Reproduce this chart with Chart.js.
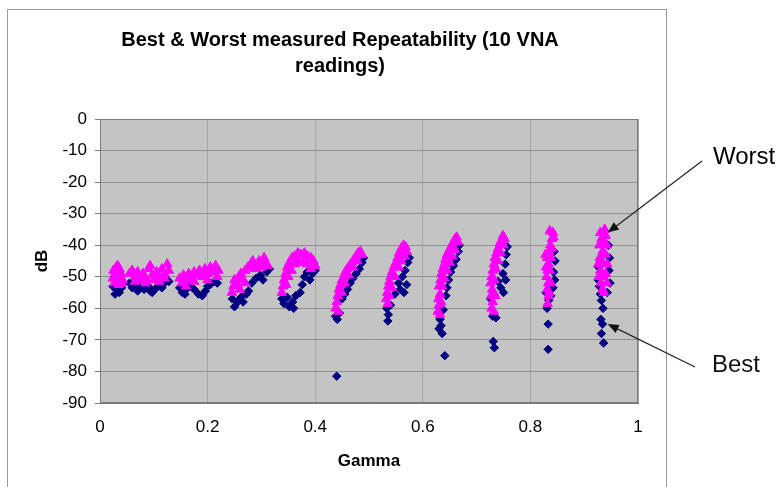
<!DOCTYPE html>
<html>
<head>
<meta charset="utf-8">
<script src="https://cdn.jsdelivr.net/npm/chart.js@4.4.1/dist/chart.umd.min.js"></script>
<style>
  body { margin: 0; background: #fff; }
  canvas { display: block; }
</style>
</head>
<body>
<canvas id="my_Chart" width="780" height="487"></canvas>
<script>
// Texts and ticks
var titleLines = ["Best & Worst measured Repeatability (10 VNA", "readings)"];
var xTitle = "Gamma";
var yTitle = "dB";
var xTicks = [0, 0.2, 0.4, 0.6, 0.8, 1];
var yTicks = [0, -10, -20, -30, -40, -50, -60, -70, -80, -90];

// Worst repeatability (magenta triangles), one line per gamma group
var worstGamma = [
  0.025, 0.030, 0.033, 0.036, 0.028, 0.034, 0.039, 0.024, 0.031, 0.037, 0.042, 0.027, 0.035, 0.040,
  0.055, 0.060, 0.065, 0.070, 0.075, 0.080, 0.085, 0.090, 0.093, 0.097, 0.100, 0.105, 0.110, 0.115, 0.120, 0.125, 0.128, 0.065, 0.085, 0.110, 0.120,
  0.148, 0.152, 0.155, 0.160, 0.165, 0.170, 0.175, 0.180, 0.185, 0.190, 0.195, 0.200, 0.205, 0.210, 0.215, 0.220, 0.218, 0.200, 0.175, 0.160,
  0.245, 0.248, 0.250, 0.255, 0.258, 0.262, 0.265, 0.270, 0.275, 0.280, 0.284, 0.288, 0.292, 0.296, 0.300, 0.305, 0.308, 0.312, 0.260, 0.270,
  0.338, 0.340, 0.342, 0.345, 0.348, 0.352, 0.357, 0.362, 0.368, 0.374, 0.380, 0.386, 0.392, 0.397, 0.400, 0.350, 0.356, 0.362, 0.370, 0.378, 0.385, 0.392, 0.346,
  0.438, 0.440, 0.442, 0.444, 0.447, 0.450, 0.453, 0.456, 0.460, 0.464, 0.468, 0.472, 0.476, 0.480, 0.484, 0.487, 0.455, 0.462, 0.470, 0.478, 0.449, 0.443,
  0.532, 0.534, 0.536, 0.538, 0.540, 0.543, 0.546, 0.550, 0.553, 0.556, 0.560, 0.564, 0.568, 0.570, 0.566, 0.560, 0.555, 0.548, 0.542, 0.538, 0.535,
  0.628, 0.630, 0.629, 0.632, 0.630, 0.633, 0.635, 0.637, 0.640, 0.642, 0.645, 0.648, 0.651, 0.654, 0.657, 0.660, 0.663, 0.665, 0.660, 0.655, 0.650, 0.645, 0.640, 0.636, 0.634, 0.632,
  0.728, 0.730, 0.727, 0.729, 0.726, 0.728, 0.730, 0.732, 0.734, 0.737, 0.740, 0.743, 0.746, 0.749, 0.752, 0.750, 0.745, 0.740, 0.736, 0.733, 0.735, 0.732,
  0.832, 0.834, 0.831, 0.833, 0.830, 0.832, 0.834, 0.831, 0.835, 0.837, 0.840, 0.842, 0.843, 0.840, 0.838, 0.836, 0.838, 0.835, 0.829, 0.828, 0.836,
  0.930, 0.932, 0.928, 0.934, 0.929, 0.935, 0.930, 0.936, 0.931, 0.934, 0.938, 0.940, 0.942, 0.940, 0.943, 0.940, 0.942, 0.926, 0.927, 0.937, 0.936, 0.933
];
var worstDb = [
  -48, -47, -46.5, -47.5, -49, -49.5, -49, -50.5, -51, -50.5, -51, -52, -52.5, -52,
  -49, -48, -50, -48.5, -51, -49, -50.5, -47.5, -46.5, -49.5, -51, -48.5, -50, -47.5, -49, -46, -48, -51.5, -52, -51.5, -50.5,
  -50.5, -52, -49.5, -51, -49, -50.5, -48.5, -49.5, -48, -50, -47.5, -49, -47, -48.5, -46.5, -48, -50, -51, -51.5, -53,
  -55, -53, -51, -52.5, -50, -49, -51, -48, -47, -46, -45, -47.5, -46, -45, -47, -44, -45.5, -46.5, -54, -52,
  -55, -53, -51, -49, -47, -45.5, -44, -43.5, -42.5, -43, -42.5, -43.5, -44, -45, -46.5, -50, -48, -46, -45, -45.5, -46, -47.5, -52.5,
  -60, -58, -56, -54, -52.5, -51, -50, -48.5, -47.5, -46.5, -45.5, -44.5, -43.5, -42.5, -42, -43, -52, -49.5, -47, -45, -55, -61,
  -57, -55, -53, -51.5, -50, -48.5, -47, -45.5, -44, -42.5, -41, -40, -40.5, -42, -43.5, -45, -47, -50, -53.5, -56, -58.5,
  -61, -59, -57, -55.5, -53, -51, -49, -47.5, -46, -44.5, -43, -42, -41, -40, -39, -38, -37.5, -39, -41.5, -43.5, -45.5, -48, -50.5, -53, -58, -62,
  -60, -58, -56, -54, -52, -50, -48, -46, -44, -42.5, -41, -39.5, -38.5, -37, -38, -40, -42.5, -45, -47.5, -51, -56, -61,
  -58.5, -56, -54, -52, -50, -48, -46, -44, -42, -40, -38, -36, -37.5, -41, -44, -48, -52, -55, -47, -43, -35.5,
  -36, -38, -40, -42, -44, -46, -48, -50, -52, -54, -35, -37, -40, -43, -46, -49, -52, -46, -50, -55, -39, -45
];

// Best repeatability (navy diamonds)
var bestGamma = [
  0.024, 0.030, 0.035, 0.040, 0.028, 0.036, 0.041,
  0.055, 0.060, 0.068, 0.075, 0.082, 0.090, 0.097, 0.102, 0.108, 0.115, 0.120, 0.128, 0.070, 0.093,
  0.148, 0.153, 0.160, 0.167, 0.175, 0.183, 0.190, 0.196, 0.200, 0.205, 0.212, 0.218, 0.158,
  0.246, 0.250, 0.256, 0.262, 0.266, 0.272, 0.276, 0.282, 0.290, 0.298, 0.303, 0.310, 0.315,
  0.338, 0.342, 0.348, 0.352, 0.358, 0.364, 0.360, 0.372, 0.376, 0.380, 0.385, 0.390, 0.395, 0.400,
  0.438, 0.441, 0.445, 0.440, 0.450, 0.455, 0.460, 0.465, 0.470, 0.476, 0.482, 0.487, 0.490,
  0.533, 0.536, 0.535, 0.540, 0.548, 0.555, 0.562, 0.567, 0.572, 0.575, 0.565, 0.570, 0.558,
  0.632, 0.634, 0.630, 0.636, 0.641, 0.638, 0.645, 0.648, 0.652, 0.657, 0.662, 0.666, 0.668, 0.643,
  0.726, 0.732, 0.730, 0.736, 0.731, 0.733, 0.745, 0.740, 0.749, 0.753, 0.755, 0.757, 0.754, 0.750,
  0.829, 0.834, 0.831, 0.833, 0.833, 0.844, 0.846, 0.843, 0.845, 0.842, 0.838,
  0.926, 0.928, 0.930, 0.932, 0.935, 0.931, 0.934, 0.932, 0.936, 0.945, 0.947, 0.946, 0.948, 0.943, 0.927
];
var bestDb = [
  -53, -54, -54.5, -53.5, -55.5, -55, -52.5,
  -52, -53.5, -52.5, -53.5, -54, -53, -55, -54, -53, -53.5, -52, -51.5, -54.5, -54.5,
  -53.5, -55, -54, -53, -54, -55.5, -56, -54.5, -53, -52.5, -51.5, -52, -55.5,
  -57, -59.5, -58, -56.5, -58, -55.5, -54.5, -52, -50.5, -49.5, -51, -48.5, -47.5,
  -57, -58.5, -56.5, -59.5, -58, -56, -60, -55, -52.5, -50, -48.5, -51, -49, -48,
  -62.5, -63.5, -61.5, -81.5, -57, -55.5, -54, -52, -50.5, -49, -47.5, -45.5, -44,
  -60, -62, -64, -59, -55.5, -52, -50, -48, -45.5, -44, -55, -52.5, -54,
  -63.5, -65.5, -66.5, -68, -75, -60.5, -53.5, -51, -48.5, -46.5, -44.5, -42, -40, -56,
  -57, -55.5, -62.5, -63, -70.5, -72.5, -53.5, -51.5, -49, -46, -43, -40.5, -51, -55,
  -55, -57.5, -60, -65, -73, -42, -45, -48.5, -51, -53.5, -56,
  -51, -53, -55.5, -57.5, -60, -63.5, -65, -68, -71, -40, -44, -48, -52, -55, -47
];

// Callouts: text and the data point each arrow points at
var noteLabels = ["Worst", "Best"];
var noteGamma = [0.94, 0.94];
var noteDb = [-36, -65];

function toPoints(xs, ys) {
    return xs.map(function (x, i) { return { x: x, y: ys[i] }; });
}

Chart.defaults.font.family = "'Liberation Sans', Arial, sans-serif";
Chart.defaults.color = '#000';

// Outer frame + gray plot area
var plotBackground = {
    id: 'plotBackground',
    beforeDraw: function (chart) {
        var ctx = chart.ctx, a = chart.chartArea;
        ctx.save();
        ctx.strokeStyle = '#9a9a9a';
        ctx.lineWidth = 1;
        ctx.strokeRect(7.5, 9.5, 659, 520);
        ctx.fillStyle = '#c4c4c4';
        ctx.fillRect(a.left, a.top, a.right - a.left, a.bottom - a.top);
        ctx.restore();
    },
    beforeDatasetsDraw: function (chart) {
        var ctx = chart.ctx, a = chart.chartArea;
        ctx.save();
        ctx.strokeStyle = '#7a7a7a';
        ctx.lineWidth = 1;
        ctx.strokeRect(a.left + 0.5, a.top + 0.5, a.right - a.left - 1, a.bottom - a.top - 1);
        ctx.restore();
    }
};

// "Worst" / "Best" callouts with arrows
var callouts = {
    id: 'callouts',
    afterDraw: function (chart) {
        var ctx = chart.ctx;
        var xs = chart.scales.x, ys = chart.scales.y;
        var textPos = [[713, 157], [712, 365]];
        var lineStart = [[702, 161], [695, 367]];
        ctx.save();
        ctx.font = "24px 'Liberation Sans', Arial, sans-serif";
        ctx.fillStyle = '#000';
        ctx.textBaseline = 'middle';
        ctx.textAlign = 'left';
        for (var i = 0; i < noteLabels.length; i++) {
            ctx.fillText(noteLabels[i], textPos[i][0], textPos[i][1]);
            var tx = xs.getPixelForValue(noteGamma[i]) + 2;
            var ty = ys.getPixelForValue(noteDb[i]);
            var sx = lineStart[i][0], sy = lineStart[i][1];
            var ang = Math.atan2(ty - sy, tx - sx);
            ctx.strokeStyle = '#222';
            ctx.lineWidth = 1.2;
            ctx.beginPath();
            ctx.moveTo(sx, sy);
            ctx.lineTo(tx - 8 * Math.cos(ang), ty - 8 * Math.sin(ang));
            ctx.stroke();
            ctx.beginPath();
            ctx.moveTo(tx, ty);
            ctx.lineTo(tx - 11 * Math.cos(ang) + 4.5 * Math.sin(ang), ty - 11 * Math.sin(ang) - 4.5 * Math.cos(ang));
            ctx.lineTo(tx - 11 * Math.cos(ang) - 4.5 * Math.sin(ang), ty - 11 * Math.sin(ang) + 4.5 * Math.cos(ang));
            ctx.closePath();
            ctx.fillStyle = '#111';
            ctx.fill();
        }
        ctx.restore();
    }
};

var ctx = document.getElementById('my_Chart').getContext('2d');
var myChart = new Chart(ctx, {
    type: 'scatter',
    data: {
        datasets: [{
            label: 'Worst',
            data: toPoints(worstGamma, worstDb),
            pointStyle: 'triangle',
            pointRadius: 5.5,
            backgroundColor: '#ff00ff',
            borderColor: '#ff00ff',
            borderWidth: 1,
            order: 0
        }, {
            label: 'Best',
            data: toPoints(bestGamma, bestDb),
            pointStyle: 'rectRot',
            pointRadius: 4.2,
            backgroundColor: '#000080',
            borderColor: '#000080',
            borderWidth: 1,
            order: 1
        }]
    },
    options: {
        responsive: false,
        animation: false,
        events: [],
        layout: { padding: { left: 14, right: 114, top: 0, bottom: 0 } },
        plugins: {
            legend: { display: false },
            tooltip: { enabled: false },
            title: {
                display: true,
                text: titleLines,
                font: { size: 20, weight: 'bold', lineHeight: 1.3 },
                color: '#000',
                padding: { top: 27, bottom: 40 }
            }
        },
        scales: {
            x: {
                type: 'linear',
                min: 0,
                max: 1,
                afterBuildTicks: function (s) { s.ticks = xTicks.map(function (v) { return { value: v }; }); },
                afterFit: function (s) { s.height = 84; },
                ticks: {
                    font: { size: 17 },
                    padding: 14,
                    callback: function (v) { return String(v); }
                },
                grid: { color: '#a6a6a6', drawTicks: false },
                border: { color: '#7a7a7a' },
                title: {
                    display: true,
                    text: xTitle,
                    font: { size: 17, weight: 'bold' },
                    padding: { top: 0, bottom: 15 }
                }
            },
            y: {
                type: 'linear',
                min: -90,
                max: 0,
                afterBuildTicks: function (s) { s.ticks = yTicks.map(function (v) { return { value: v }; }); },
                afterFit: function (s) { s.width = 86; },
                ticks: {
                    font: { size: 17 },
                    padding: 8,
                    callback: function (v) { return String(v); }
                },
                grid: { color: '#909090', tickColor: '#7a7a7a', tickLength: 5 },
                border: { color: '#7a7a7a' },
                title: {
                    display: true,
                    text: yTitle,
                    font: { size: 17, weight: 'bold' },
                    padding: { top: 18, bottom: 0 }
                }
            },
            pad: {
                type: 'linear',
                position: 'right',
                display: true,
                grid: { display: false },
                ticks: { display: false },
                border: { display: false },
                afterFit: function (s) { s.width = 28; }
            }
        }
    },
    plugins: [plotBackground, callouts]
});
</script>
</body>
</html>
